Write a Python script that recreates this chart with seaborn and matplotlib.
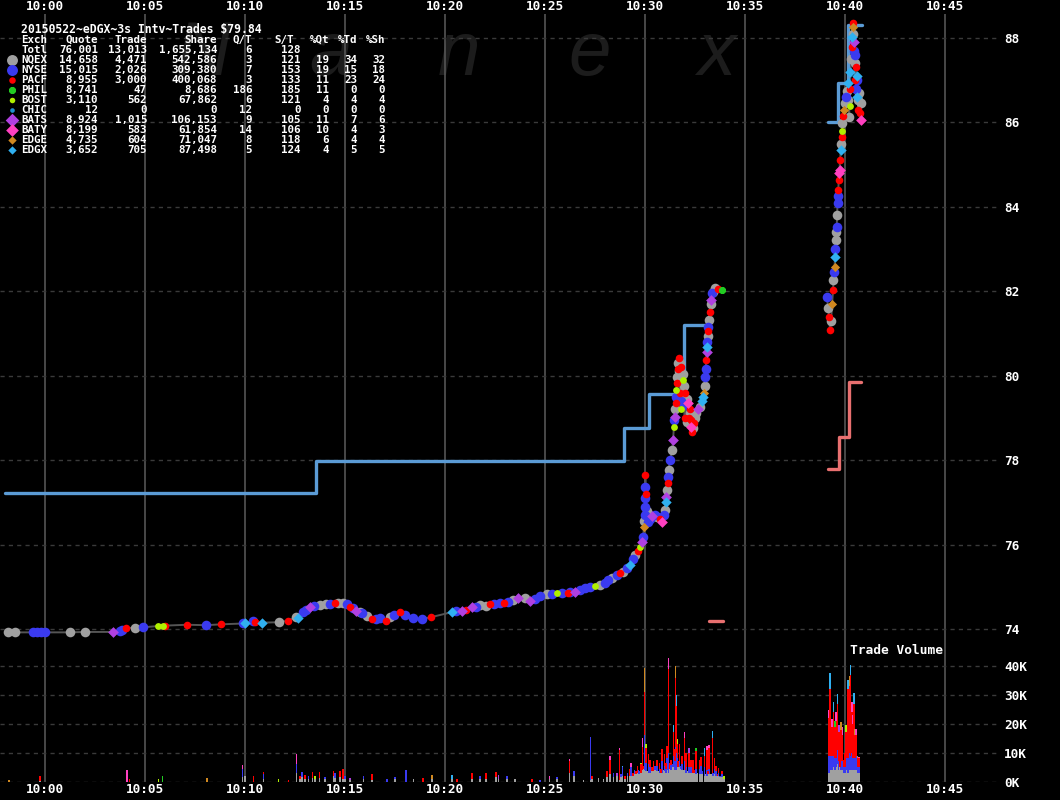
import matplotlib
matplotlib.use("Agg")
import matplotlib.pyplot as plt
import numpy as np
import pandas as pd
import seaborn as sns

# ---------------- data ----------------
time_ticks = [0, 5, 10, 15, 20, 25, 30, 35, 40, 45]          # minutes after 10:00
time_labels = ["10:00", "10:05", "10:10", "10:15", "10:20",
               "10:25", "10:30", "10:35", "10:40", "10:45"]
price_ticks = [74, 76, 78, 80, 82, 84, 86, 88]
vol_ticks = [0, 10, 20, 30, 40]                              # thousands of shares
vol_labels = ["0K", "10K", "20K", "30K", "40K"]

title_text = "20150522~eDGX~3s Intv~Trades $79.84"
tbl_header = ["Exch", "Quote", "Trade", "Share", "Q/T", "S/T", "%Qt", "%Td", "%Sh"]
tbl_exch = ["Totl", "NQEX", "NYSE", "PACF", "PHIL", "BOST", "CHIC", "BATS", "BATY", "EDGE", "EDGX"]
tbl_quote = ["76,001", "14,658", "15,015", "8,955", "8,741", "3,110", "12", "8,924", "8,199", "4,735", "3,652"]
tbl_trade = ["13,013", "4,471", "2,026", "3,000", "47", "562", "0", "1,015", "583", "604", "705"]
tbl_share = ["1,655,134", "542,586", "309,380", "400,068", "8,686", "67,862", "0", "106,153", "61,854", "71,047", "87,498"]
tbl_qt = ["6", "3", "7", "3", "186", "6", "12", "9", "14", "8", "5"]
tbl_st = ["128", "121", "153", "133", "185", "121", "0", "105", "106", "118", "124"]
tbl_pqt = ["", "19", "19", "11", "11", "4", "0", "11", "10", "6", "4"]
tbl_ptd = ["", "34", "15", "23", "0", "4", "0", "7", "4", "4", "5"]
tbl_psh = ["", "32", "18", "24", "0", "4", "0", "6", "3", "4", "5"]

exch_codes = ["Q", "N", "P", "H", "B", "C", "Z", "Y", "E", "X"]
exch_colors = ["#a0a0a0", "#3a3af0", "#ff0000", "#22cc22", "#b0f000",
               "#2090d0", "#b040e0", "#ff40c0", "#d08820", "#30b0f0"]

# trades: time (min after 10:00), price, exchange code
trade_t = [
    -1.87, -1.52, -0.62, -0.42, -0.22, -0.02, 1.24, 1.99, 3.39, 3.74,
    3.84, 4.04, 4.49, 4.89, 5.64, 5.89, 5.99, 7.09, 8.04, 8.79,
    9.89, 9.99, 10.39, 10.49, 10.84, 11.69, 12.14, 12.54, 12.64, 12.89,
    13.04, 13.24, 13.44, 13.74, 14.04, 14.24, 14.49, 14.64, 14.89, 15.09,
    15.24, 15.39, 15.54, 15.74, 15.84, 16.09, 16.34, 16.54, 16.74, 17.04,
    17.24, 17.44, 17.74, 17.99, 18.39, 18.84, 19.29, 20.34, 20.54, 20.84,
    21.04, 21.34, 21.54, 21.74, 22.04, 22.24, 22.44, 22.74, 22.94, 23.14,
    23.39, 23.64, 23.99, 24.24, 24.49, 24.74, 25.09, 25.34, 25.59, 25.84,
    26.14, 26.24, 26.49, 26.74, 26.99, 27.24, 27.49, 27.74, 27.99, 28.14,
    28.34, 28.59, 28.74, 28.89, 29.09, 29.24, 29.39, 29.49, 29.64, 29.74,
    29.84, 29.89, 29.94, 29.95, 29.96, 29.97, 29.98, 29.99, 30.00, 30.03,
    30.08, 30.11, 30.22, 30.32, 30.47, 30.57, 30.72, 30.82, 30.92, 30.97,
    31.02, 31.06, 31.09, 31.11, 31.14, 31.16, 31.24, 31.34, 31.39, 31.43,
    31.45, 31.48, 31.50, 31.52, 31.54, 31.56, 31.58, 31.60, 31.62, 31.64,
    31.69, 31.70, 31.72, 31.74, 31.76, 31.79, 31.81, 31.84, 31.86, 31.89,
    31.94, 31.97, 31.99, 32.04, 32.06, 32.09, 32.14, 32.19, 32.22, 32.24,
    32.27, 32.29, 32.32, 32.37, 32.42, 32.47, 32.52, 32.62, 32.74, 32.84,
    32.89, 32.94, 32.97, 33.00, 33.02, 33.04, 33.06, 33.08, 33.10, 33.12,
    33.14, 33.16, 33.19, 33.24, 33.27, 33.30, 33.33, 33.36, 33.49, 33.64,
    33.84, 39.08, 39.14, 39.19, 39.24, 39.29, 39.34, 39.39, 39.41, 39.43,
    39.46, 39.49, 39.51, 39.53, 39.55, 39.57, 39.59, 39.61, 39.63, 39.65,
    39.67, 39.69, 39.71, 39.74, 39.77, 39.79, 39.81, 39.83, 39.85, 39.89,
    39.94, 39.99, 40.04, 40.09, 40.13, 40.16, 40.19, 40.21, 40.24, 40.26,
    40.29, 40.31, 40.34, 40.36, 40.38, 40.40, 40.42, 40.44, 40.46, 40.48,
    40.50, 40.52, 40.54, 40.56, 40.58, 40.60, 40.63, 40.66, 40.70, 40.74,
    40.78, 40.80,
]
trade_p = [
    73.93, 73.92, 73.92, 73.92, 73.92, 73.92, 73.92, 73.93, 73.93, 73.96,
    73.97, 74.02, 74.03, 74.04, 74.07, 74.07, 74.08, 74.10, 74.09, 74.11,
    74.13, 74.14, 74.18, 74.16, 74.15, 74.16, 74.20, 74.28, 74.26, 74.41,
    74.46, 74.53, 74.55, 74.57, 74.58, 74.59, 74.62, 74.62, 74.62, 74.58,
    74.51, 74.49, 74.43, 74.40, 74.39, 74.30, 74.23, 74.24, 74.25, 74.20,
    74.28, 74.33, 74.40, 74.34, 74.25, 74.24, 74.28, 74.40, 74.42, 74.43,
    74.46, 74.53, 74.52, 74.56, 74.55, 74.58, 74.60, 74.61, 74.62, 74.65,
    74.68, 74.73, 74.73, 74.67, 74.70, 74.77, 74.83, 74.82, 74.85, 74.85,
    74.86, 74.88, 74.88, 74.92, 74.96, 75.00, 75.02, 75.04, 75.10, 75.16,
    75.20, 75.28, 75.33, 75.36, 75.44, 75.52, 75.65, 75.75, 75.85, 75.95,
    76.05, 76.19, 76.42, 76.55, 76.70, 76.90, 77.10, 77.37, 77.65, 77.20,
    76.80, 76.54, 76.60, 76.68, 76.70, 76.65, 76.60, 76.54, 76.70, 76.82,
    77.00, 77.13, 77.30, 77.45, 77.60, 77.77, 78.00, 78.24, 78.48, 78.79,
    78.95, 79.03, 79.20, 79.35, 79.50, 79.66, 79.82, 79.98, 80.15, 80.29,
    80.42, 80.10, 79.60, 80.30, 79.20, 80.21, 79.40, 79.60, 80.05, 79.90,
    79.75, 79.00, 79.58, 79.30, 78.90, 79.45, 79.35, 79.00, 79.20, 79.11,
    78.95, 78.79, 78.67, 78.75, 78.87, 79.00, 79.11, 79.20, 79.27, 79.40,
    79.50, 79.58, 79.75, 79.98, 80.15, 80.37, 80.55, 80.69, 80.80, 80.93,
    81.05, 81.16, 81.32, 81.52, 81.70, 81.79, 81.95, 81.99, 82.07, 82.05,
    82.03, 81.87, 81.60, 81.40, 81.08, 81.30, 81.70, 82.03, 82.27, 82.45,
    82.58, 82.82, 83.00, 83.21, 83.40, 83.53, 83.81, 84.09, 84.25, 84.40,
    84.64, 84.80, 84.88, 85.11, 85.35, 85.50, 85.66, 85.80, 85.98, 86.15,
    86.30, 86.45, 86.61, 86.75, 86.93, 86.53, 86.14, 86.40, 86.80, 87.20,
    87.50, 87.79, 88.03, 88.27, 88.35, 88.10, 87.70, 87.90, 87.40, 87.60,
    87.00, 87.32, 86.80, 87.10, 86.60, 87.01, 86.53, 86.30, 86.70, 86.22,
    86.06, 86.45,
]
trade_ex = list(
    "QQNNNNQQZN" "NPQNBBPPNP" "NXNPXQPQXN" "NZNQQNPQQN" "PNZQNQPNNP"
    "QNPNNNPXNZ" "PZNQQPNNPN" "QZQZNNQNBN" "PNZNNNBQNN" "QNPQNXNQPB"
    "ZNEQNNNNPP" "QNNZNQPYNQ" "XZQPNQNQZB" "NZQPNBPQPQ" "PQPQBPNQQB"
    "QPPNQQYPPQ" "PYPQPQQZQX" "XEQNNPZXNQ" "PNQPQZNQQP" "HNQPPQEPQN"
    "EXNQQNQNNP" "PYYPXQPBQP" "EQNQXQQBPX" "QPXEPQNZQN" "PPNXXNQPQP"
    "YQ"
)

# reference price band (blue) and reopening band (salmon): step start times and levels
band_t = [-2.00, 13.55, 28.95, 30.18, 31.95, 33.08]
band_p = [77.22, 77.98, 78.75, 79.56, 81.20, 81.20]
band2_t = [39.12, 39.63, 40.14, 40.82]
band2_p = [86.00, 86.93, 88.30, 88.30]
low_t = [39.12, 39.70, 40.20, 40.79]
low_p = [77.78, 78.54, 79.85, 79.85]
low0_t = [33.19, 33.87]
low0_p = [74.20, 74.20]

# trade volume per 3-second interval, thousands of shares, stacked by exchange
vol_t = [
    -1.80, -0.27, 4.07, 4.20, 5.65, 5.85, 8.07, 9.87, 9.99, 10.40,
    10.90, 11.65, 12.15, 12.55, 12.74, 12.82, 12.99, 13.15, 13.35, 13.49,
    13.70, 13.99, 14.40, 14.49, 14.74, 14.87, 14.99, 15.24, 15.90, 16.32,
    17.07, 17.49, 18.02, 18.40, 18.87, 19.32, 20.34, 20.57, 21.32, 21.74,
    22.02, 22.52, 22.65, 23.07, 23.49, 24.32, 24.74, 25.20, 25.57, 26.20,
    26.43, 26.90, 27.25, 27.32, 27.65, 27.90, 28.07, 28.24, 28.40, 28.57,
    28.70, 28.77, 28.85, 28.99, 29.10, 29.20, 29.29, 29.37, 29.45, 29.49,
    29.54, 29.60, 29.65, 29.69, 29.77, 29.85, 29.90, 29.95, 30.03, 30.08,
    30.15, 30.20, 30.24, 30.33, 30.40, 30.48, 30.57, 30.65, 30.70, 30.77,
    30.82, 30.88, 30.95, 31.00, 31.04, 31.08, 31.15, 31.20, 31.27, 31.33,
    31.40, 31.44, 31.47, 31.50, 31.55, 31.60, 31.64, 31.70, 31.76, 31.82,
    31.88, 31.95, 32.00, 32.05, 32.11, 32.17, 32.22, 32.27, 32.33, 32.39,
    32.45, 32.54, 32.62, 32.70, 32.79, 32.87, 32.95, 33.01, 33.07, 33.13,
    33.19, 33.27, 33.35, 33.40, 33.45, 33.50, 33.55, 33.60, 33.65, 33.72,
    33.82, 33.94, 39.15, 39.19, 39.24, 39.29, 39.32, 39.37, 39.40, 39.45,
    39.49, 39.54, 39.60, 39.65, 39.69, 39.74, 39.77, 39.82, 39.85, 39.92,
    39.99, 40.05, 40.14, 40.20, 40.25, 40.32, 40.37, 40.43, 40.49, 40.55,
    40.62, 40.69,
]
vol_q = [
    0, 0.3, 0, 0, 0, 0, 0, 1.5, 1.8, 0,
    1.0, 0, 0, 3.0, 1.0, 1.5, 1.0, 1.0, 1.2, 0.8,
    1.3, 1.0, 2.0, 1.2, 1.5, 1.0, 1.0, 0.6, 1.0, 0.5,
    0, 0.8, 0, 0.8, 0, 1.0, 0.8, 0, 0.8, 1.0,
    1.0, 1.5, 1.0, 1.0, 0.8, 0, 0, 1.0, 1.0, 3.0,
    2.0, 0.6, 0.5, 1.0, 1.2, 1.0, 1.5, 2.5, 1.5, 2.0,
    0.5, 1.5, 2.0, 1.0, 2.0, 2.0, 2.0, 2.0, 2.5, 3.0,
    2.5, 3.0, 3.5, 2.5, 3.0, 4.0, 4.5, 4.0, 3.5, 3.5,
    3.0, 4.0, 3.0, 3.5, 3.5, 4.0, 3.5, 3.5, 3.0, 3.0,
    3.0, 4.0, 3.5, 3.5, 3.0, 4.0, 3.0, 4.5, 4.0, 5.0,
    5.0, 5.0, 4.0, 4.0, 4.0, 5.0, 5.0, 5.0, 4.5, 4.0,
    4.0, 4.0, 4.0, 3.0, 3.5, 3.0, 3.5, 3.0, 3.0, 3.0,
    3.0, 2.5, 3.0, 2.5, 2.5, 2.5, 2.0, 2.5, 2.0, 2.5,
    2.5, 2.5, 2.0, 2.0, 2.5, 2.0, 2.0, 2.0, 2.0, 1.5,
    1.5, 1.0, 3, 3, 5, 4, 4, 6, 5, 5,
    4, 5, 6, 4, 5, 5, 4, 4, 4, 3,
    3, 4, 3, 4, 4, 4, 4, 4, 5, 4,
    3, 3,
]
vol_n = [
    0, 0, 0, 0, 0, 0, 0, 3.0, 0, 0,
    1.5, 0, 0, 3.0, 0, 1.7, 0, 0.8, 0, 0,
    0, 0.4, 0, 1.7, 0, 0, 0.8, 0, 0.8, 0,
    0.9, 0.7, 4.1, 0, 0, 0, 0, 0, 0, 0.8,
    0, 0, 0, 1.0, 0, 0, 0.6, 0, 0.5, 0,
    1.5, 0, 14.8, 0, 0, 0, 0, 0, 1.4, 0,
    0, 1.0, 3.0, 0, 1.0, 0, 3.0, 0, 1.6, 0,
    0, 0, 0.5, 1.0, 0, 0, 0, 12.0, 3.0, 0,
    3.0, 1.0, 2.0, 0, 0, 1.5, 2.0, 0, 1.5, 0,
    4.0, 0, 2.0, 1.0, 1.5, 4.0, 7.0, 0, 1.6, 1.0,
    4.0, 0, 3.0, 8.0, 6.0, 3.0, 0, 2.0, 1.0, 2.0,
    0, 3.0, 0, 2.0, 0, 2.0, 1.0, 2.0, 0, 0,
    0, 2.0, 0, 2.0, 3.0, 1.0, 3.0, 0, 2.0, 0,
    2.0, 0, 1.0, 1.0, 2.0, 0, 1.5, 0, 1.0, 0.5,
    1.0, 0, 8, 6, 7, 5, 5, 4, 4, 4,
    4, 3, 5, 3, 3, 0, 4, 3, 4, 2,
    2, 4, 5, 6, 5, 6, 4, 4, 3, 5,
    2, 2,
]
vol_p = [
    0, 1.5, 0, 0.8, 0, 0, 0, 0, 0, 2.0,
    0.7, 0, 0.4, 0, 0.8, 0, 1.3, 0, 2.0, 0,
    2.0, 0, 1.5, 0, 2.3, 3.3, 0, 0, 0, 2.2,
    0, 0, 0, 0, 1.2, 0, 0, 0.9, 2.1, 0,
    1.9, 1.8, 0, 0, 0, 0.8, 0, 0, 0, 4.0,
    0, 0, 0, 0.8, 0, 0, 2.0, 5.0, 0, 0,
    10.5, 0, 0, 1.0, 0, 2.5, 0, 1.0, 0, 0,
    1.0, 2.5, 0, 0, 3.0, 8.0, 1.0, 15.0, 5.0, 0,
    3.4, 0, 2.6, 1.5, 3.5, 0, 2.1, 0, 2.0, 1.5,
    4.2, 0, 3.9, 0, 2.0, 4.3, 29.0, 2.0, 2.0, 0,
    8.0, 0, 4.2, 24.0, 16.0, 5.0, 2.0, 5.9, 0, 2.8,
    0, 8.0, 1.0, 5.0, 0, 5.0, 0, 2.6, 0, 4.6,
    1.0, 6.0, 0, 3.1, 3.1, 0, 4.0, 0, 7.0, 1.0,
    7.0, 0, 12.0, 0, 3.7, 0, 1.8, 0.5, 1.7, 0,
    1.0, 0, 11, 5, 20, 3, 10, 5, 15, 4,
    11, 13, 16, 3, 9, 7, 10, 4, 8, 2.6,
    5, 9, 24, 23, 28, 14, 12, 19, 8, 7,
    3, 3,
]
vol_o = [
    0.6, 0, 4.1, 0, 0.8, 2.0, 1.3, 1.1, 0, 0,
    0, 0.8, 0, 3.4, 0, 0, 0, 0, 0, 1.0,
    0, 0, 0, 0, 0, 0, 0, 0.6, 0, 0,
    0, 0, 0, 0, 0, 1.3, 1.4, 0, 0, 0,
    0, 0, 1.3, 0, 0, 0, 0, 1.0, 0, 0.9,
    0, 0, 0, 0, 0, 0, 0, 1.3, 0, 1.0,
    0.5, 0, 0.5, 0, 0, 0, 1.5, 0, 0, 0,
    0, 0, 0, 0, 0.5, 2.9, 0, 8.3, 1.6, 0,
    0, 0, 0, 0, 0, 0, 0, 0, 0, 0,
    0, 0, 0, 0, 0, 0, 3.8, 0, 0, 0,
    2.4, 0, 0, 3.9, 3.9, 1.7, 0, 0, 0, 0,
    0, 2.0, 0, 0, 0, 1.7, 0, 0, 0, 0,
    0, 1.0, 0, 0, 0, 0, 2.7, 0, 1.3, 0,
    1.3, 0, 2.4, 0, 0, 0, 0, 0, 0, 0,
    0, 0.8, 2.7, 0, 5.6, 0, 2.7, 0, 3.6, 0,
    2.1, 3.1, 3.2, 0, 2.4, 0, 2.5, 0, 2.8, 0,
    0, 2.4, 3.2, 3.4, 3.5, 3.6, 2.9, 3.5, 2.2, 2.2,
    0.8, 0.6,
]
vol_oex = list(
    "EEYEBHEYEE" "EBEYEEEEEB" "EEEEEEEZEE" "EEEEEEXEEE" "EEZEEEEYEY"
    "EEEEEEEYEZ" "YEXEEEYEEE" "EEEEBYEEBE" "EEEEEEEEEE" "EEEEEEYEEE"
    "XEEEXBEEEE" "EYEEEZEEEE" "EHEEEEXEYE" "YEXEEEEEEE" "EBYEXEYEXE"
    "HYXEZEEEYE" "EBXEXYYXEY" "EY"
)

# ---------------- style ----------------
sns.set_style("dark", {"axes.facecolor": "black", "figure.facecolor": "black"})
plt.rcParams["font.family"] = ["DejaVu Sans Mono"]
plt.rcParams["font.weight"] = "bold"

W, H = 1060, 800
fig = plt.figure(figsize=(W / 100, H / 100), dpi=100, facecolor="black")
color_of = dict(zip(exch_codes, exch_colors))
marker_of = {"Q": "o", "N": "o", "P": "o", "H": "8", "B": "o", "C": "o",
             "Z": "D", "Y": "D", "E": "D", "X": "D"}
size_of = {"Q": 48, "N": 48, "P": 30, "H": 30, "B": 24, "C": 14,
           "Z": 30, "Y": 30, "E": 22, "X": 28}

# price axes (full height)
ax = fig.add_axes([0, 18 / H, 1000 / W, 768 / H])
ax.set_facecolor("black")
ax.set_xlim(-2.265, 47.735)
ax.set_ylim(70.375, 88.569)
ax.set_axisbelow(True)
for s in ax.spines.values():
    s.set_visible(False)
ax.set_xticks(time_ticks)
ax.set_xticklabels(time_labels)
ax.tick_params(axis="x", length=0, labeltop=True, labelbottom=True, top=False, bottom=False,
               labelcolor="white", labelsize=9.2, pad=1.0)
ax.yaxis.tick_right()
ax.set_yticks(price_ticks)
ax.set_yticklabels([str(v) for v in price_ticks])
ax.tick_params(axis="y", length=0, labelcolor="white", labelsize=9.2, pad=3)
ax.grid(axis="x", color="#555555", lw=1.2, ls="-")
ax.grid(axis="y", color="#3a3a3a", lw=1.0, ls=(0, (3, 3)))
ax.set_xlabel("")
ax.set_ylabel("")

# watermark
for ch, xc in zip("Nanex", [203, 331, 459, 590, 716]):
    ax.text(xc / W, 1 - 75 / H, ch, transform=fig.transFigure, ha="center", va="baseline",
            fontsize=55, color="#1c1c1c", family="Liberation Sans", style="italic",
            fontweight="normal", zorder=0.1)

# band steps
sns.lineplot(x=band_t, y=band_p, drawstyle="steps-post", estimator=None, sort=False,
             color="#5b9bd5", lw=2.4, ax=ax, legend=False, zorder=2.5)
sns.lineplot(x=band2_t, y=band2_p, drawstyle="steps-post", estimator=None, sort=False,
             color="#5b9bd5", lw=2.4, ax=ax, legend=False, zorder=2.5)
sns.lineplot(x=low_t, y=low_p, drawstyle="steps-post", estimator=None, sort=False,
             color="#e87070", lw=2.4, ax=ax, legend=False, zorder=2.5)
sns.lineplot(x=low0_t, y=low0_p, estimator=None, sort=False,
             color="#e87070", lw=2.4, ax=ax, legend=False, zorder=2.5)

# trades
n = min(len(trade_t), len(trade_p), len(trade_ex))
trades = pd.DataFrame({"t": trade_t[:n], "p": trade_p[:n], "ex": trade_ex[:n]})
seg = np.concatenate([[0], np.cumsum(np.diff(trades["t"].values) > 3)])
for sid in np.unique(seg):
    sub = trades[seg == sid]
    sns.lineplot(x=sub["t"].values, y=sub["p"].values, estimator=None, sort=False,
                 color="#555555", lw=1.4, ax=ax, legend=False, zorder=2)
for code in exch_codes:
    sub = trades[trades["ex"] == code]
    if len(sub) == 0:
        continue
    sns.scatterplot(x=sub["t"].values, y=sub["p"].values, marker=marker_of[code],
                    s=size_of[code], color=color_of[code], linewidth=0, ax=ax,
                    legend=False, zorder=3)

# volume axes
vax = fig.add_axes([0, 18 / H, 1000 / W, 142 / H])
vax.set_facecolor("none")
vax.patch.set_alpha(0)
vax.set_xlim(-2.265, 47.735)
vax.set_ylim(-0.17, 49.0)
for s in vax.spines.values():
    s.set_visible(False)
vax.set_xticks([])
vax.yaxis.tick_right()
vax.set_yticks(vol_ticks)
vax.set_yticklabels(vol_labels)
vax.tick_params(axis="y", length=0, labelcolor="white", labelsize=9.2, pad=3)
vax.grid(axis="y", color="#3a3a3a", lw=1.0, ls=(0, (3, 3)))
vax.grid(axis="x", visible=False)
vax.set_axisbelow(True)

m = min(len(vol_t), len(vol_q), len(vol_n), len(vol_p), len(vol_o), len(vol_oex))
vt = np.array(vol_t[:m]); vq = np.array(vol_q[:m]); vn = np.array(vol_n[:m])
vp = np.array(vol_p[:m]); vo = np.array(vol_o[:m])
bw = 0.08
vax.bar(vt, vq, width=bw, color=color_of["Q"], linewidth=0, zorder=2)
vax.bar(vt, vn, width=bw, bottom=vq, color=color_of["N"], linewidth=0, zorder=2)
vax.bar(vt, vp, width=bw, bottom=vq + vn, color=color_of["P"], linewidth=0, zorder=2)
vax.bar(vt, vo, width=bw, bottom=vq + vn + vp, color=[color_of[c] for c in vol_oex[:m]],
        linewidth=0, zorder=2)

fig.text(850 / W, 1 - 650 / H, "Trade Volume", color="white", fontsize=9.3,
         fontweight="bold", ha="left", va="center")

# overlay for the summary table (pixel coordinates)
lax = fig.add_axes([0, 0, 1, 1])
lax.set_xlim(0, W)
lax.set_ylim(H, 0)
lax.axis("off")
lax.patch.set_alpha(0)
fs = 7.8
txt = dict(color="white", fontsize=fs, fontweight="bold", va="center")
lax.text(21, 30, title_text, ha="left", color="white", fontsize=8.3,
         fontweight="bold", va="center")
# column anchors: first column left-aligned, others right-aligned
head_x = [21, 98, 147, 217, 252, 294, 329, 357, 385]
row_x = [21, 98, 147, 217, 252, 301, 329, 357, 385]
for k, h in enumerate(tbl_header):
    lax.text(head_x[k], 40, h, ha="left" if k == 0 else "right", **txt)
cols = [tbl_exch, tbl_quote, tbl_trade, tbl_share, tbl_qt, tbl_st, tbl_pqt, tbl_ptd, tbl_psh]
for i in range(len(tbl_exch)):
    for k, col in enumerate(cols):
        if col[i] == "":
            continue
        lax.text(row_x[k], 50 + 10 * i, col[i], ha="left" if k == 0 else "right", **txt)
leg_size = {"Q": 62, "N": 62, "P": 22, "H": 30, "B": 16, "C": 11,
            "Z": 48, "Y": 42, "E": 18, "X": 18}
for j, code in enumerate(exch_codes):
    lax.scatter([12], [60 + 10 * j], marker=marker_of[code], s=leg_size[code],
                color=color_of[code], linewidths=0)

fig.savefig("out.png", dpi=100, facecolor="black")
